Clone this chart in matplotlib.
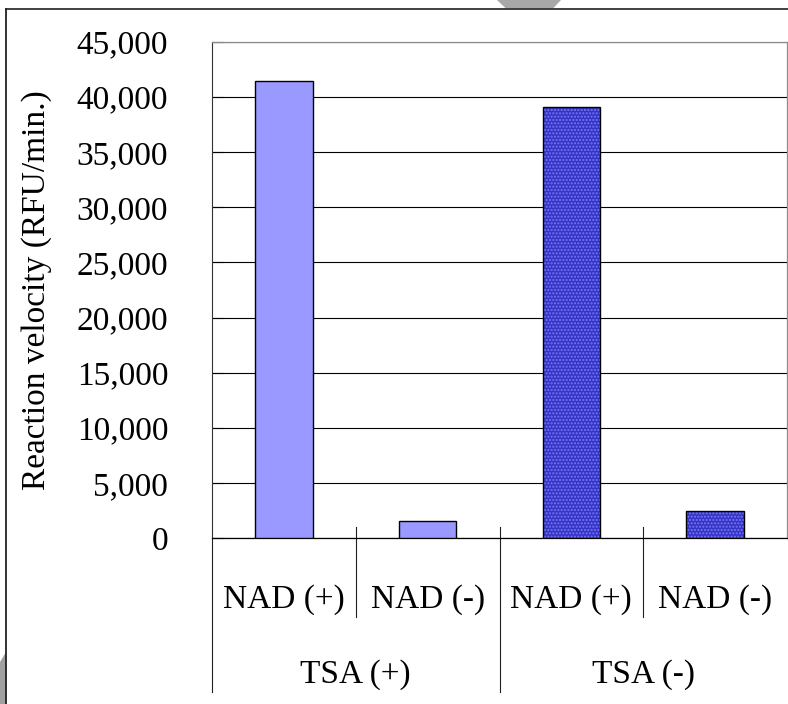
import matplotlib
matplotlib.use('Agg')
import matplotlib.pyplot as plt
from matplotlib.lines import Line2D
from matplotlib.patches import Polygon
from matplotlib.ticker import FuncFormatter
import matplotlib.transforms as mtransforms

plt.rcParams['font.family'] = ['Liberation Serif', 'DejaVu Serif']

# data
NAD_LABELS = ['NAD (+)', 'NAD (-)', 'NAD (+)', 'NAD (-)']
TSA_LABELS = ['TSA (+)', 'TSA (-)']
VELOCITY = [41450, 1550, 39100, 2480]
Y_TICKS = [0, 5000, 10000, 15000, 20000, 25000, 30000, 35000, 40000, 45000]

W, H = 788, 704
FS = 24

fig = plt.figure(figsize=(W / 100, H / 100), dpi=100)

# plot area in pixel terms
left_px, right_px, top_px, bottom_px = 212, 787, 41.7, 538.3
ax = fig.add_axes([left_px / W, 1 - bottom_px / H,
                   (right_px - left_px) / W, (bottom_px - top_px) / H])
ax_h = bottom_px - top_px


def ypix_to_axes(ypix):
    return (bottom_px - ypix) / ax_h


x = list(range(len(VELOCITY)))
light = '#9999FF'

# light bars for TSA (+)
ax.bar(x[:2], VELOCITY[:2], width=0.4, color=light, edgecolor='black', linewidth=1.0, zorder=3)

# patterned dark bars for TSA (-)
ax.bar(x[2:], VELOCITY[2:], width=0.4, color='#3535C2', edgecolor='#7676FF',
       hatch='.....', linewidth=0, zorder=3)
ax.bar(x[2:], VELOCITY[2:], width=0.4, fill=False, edgecolor='black', linewidth=1.0, zorder=4)

ax.set_xlim(-0.5, 3.5)
ax.set_ylim(0, 45000)
ax.set_yticks(Y_TICKS)
ax.yaxis.set_major_formatter(FuncFormatter(lambda v, p: f'{int(v):,}'))
ax.tick_params(axis='y', direction='in', length=8.5, width=0.8, color='black',
               pad=31.5, labelsize=FS)
ax.set_xticks([])

ax.grid(axis='y', color='black', linewidth=0.8, zorder=1)
ax.set_axisbelow(True)

for side in ['top', 'right']:
    ax.spines[side].set_color('#8c8c8c')
    ax.spines[side].set_linewidth(0.9)
ax.spines['left'].set_color('#333333')
ax.spines['left'].set_linewidth(0.8)
ax.spines['bottom'].set_color('black')
ax.spines['bottom'].set_linewidth(0.9)

# category separators below the axis
trans = mtransforms.blended_transform_factory(ax.transData, ax.transAxes)
short_top = ypix_to_axes(526.7)
short_bot = ypix_to_axes(616.7)
long_bot = ypix_to_axes(692)
for xs in [0.5, 2.5]:
    ax.add_line(Line2D([xs, xs], [short_top, short_bot], transform=trans,
                       color='#222222', linewidth=0.8, clip_on=False))
ax.add_line(Line2D([1.5, 1.5], [short_top, long_bot], transform=trans,
                   color='#222222', linewidth=0.8, clip_on=False))
ax.add_line(Line2D([-0.5, -0.5], [0, long_bot], transform=trans,
                   color='#222222', linewidth=0.8, clip_on=False))

# two-level category labels
nad_base = ypix_to_axes(608)
tsa_base = ypix_to_axes(683)
for xi, lab in zip(x, NAD_LABELS):
    ax.text(xi, nad_base, lab, transform=trans, ha='center', va='baseline', fontsize=FS)
for xi, lab in zip([0.5, 2.5], TSA_LABELS):
    ax.text(xi, tsa_base, lab, transform=trans, ha='center', va='baseline', fontsize=FS)

fig.text(37 / W, 1 - 290 / H, 'Reaction velocity (RFU/min.)', rotation=90,
         ha='center', va='center', fontsize=FS)


# outer frame and stray grey shapes at the edges
def to_fig(pts):
    return [(px_x / W, 1 - px_y / H) for px_x, px_y in pts]


fig.patches.append(Polygon(to_fig([(497, 0), (561, 0), (553, 8.5), (506, 8.5)]),
                           closed=True, transform=fig.transFigure,
                           facecolor='#a8a8a8', edgecolor='none'))
fig.patches.append(Polygon(to_fig([(0, 662), (6, 652), (6, 704), (0, 704)]),
                           closed=True, transform=fig.transFigure,
                           facecolor='#a0a0a0', edgecolor='none'))
fig.lines.append(Line2D([6 / W, 1], [1 - 9.3 / H, 1 - 9.3 / H], transform=fig.transFigure,
                        color='#333333', linewidth=1.3))
fig.lines.append(Line2D([5.5 / W, 5.5 / W], [1 - 9.3 / H, 0], transform=fig.transFigure,
                        color='#222222', linewidth=1.3))

fig.savefig('out.png', dpi=100)
